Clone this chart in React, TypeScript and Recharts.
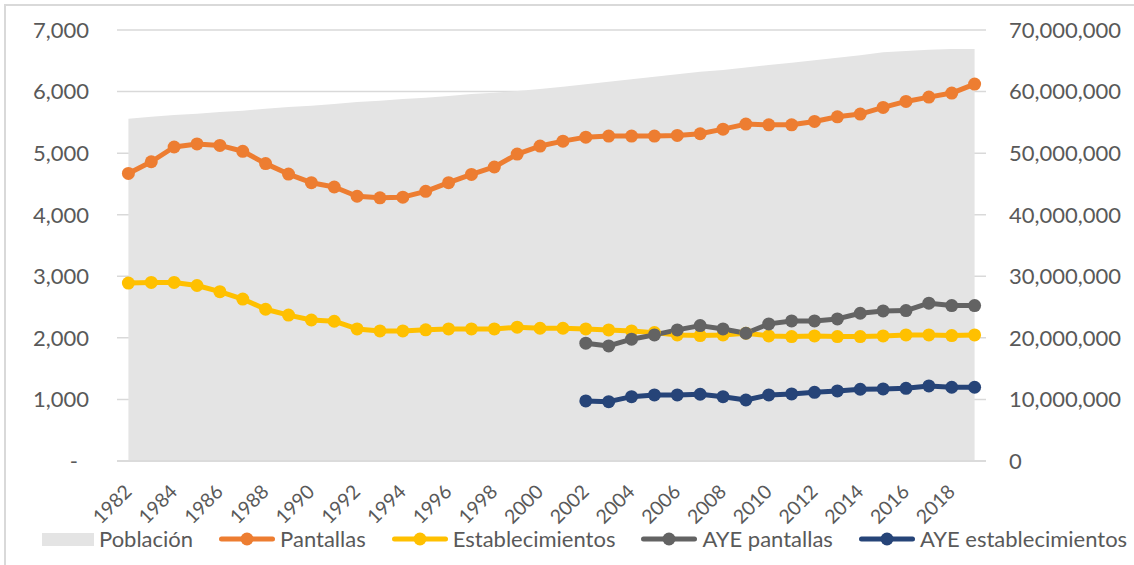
import React from 'react';
import { ComposedChart, Area, Line, XAxis, YAxis, CartesianGrid } from 'recharts';

// Categories
const years = [
  1982, 1983, 1984, 1985, 1986, 1987, 1988, 1989, 1990, 1991,
  1992, 1993, 1994, 1995, 1996, 1997, 1998, 1999, 2000, 2001,
  2002, 2003, 2004, 2005, 2006, 2007, 2008, 2009, 2010, 2011,
  2012, 2013, 2014, 2015, 2016, 2017, 2018, 2019,
];

// Población (right axis)
const poblacion = [
  55600000, 55900000, 56200000, 56400000, 56700000, 56900000, 57200000, 57500000, 57700000, 58000000,
  58300000, 58500000, 58800000, 59000000, 59300000, 59600000, 59800000, 60100000, 60400000, 60800000,
  61200000, 61600000, 62000000, 62400000, 62800000, 63200000, 63500000, 63900000, 64300000, 64700000,
  65100000, 65500000, 65900000, 66400000, 66600000, 66800000, 66900000, 66900000,
];

// Pantallas (left axis)
const pantallas = [
  4670, 4860, 5100, 5150, 5125, 5030, 4830, 4660, 4520, 4450,
  4300, 4275, 4285, 4380, 4520, 4655, 4775, 4985, 5115, 5195,
  5260, 5277, 5277, 5277, 5288, 5315, 5390, 5472, 5460, 5460,
  5515, 5590, 5635, 5742, 5840, 5910, 5976, 6122,
];

// Establecimientos (left axis)
const establecimientos = [
  2890, 2900, 2900, 2850, 2750, 2630, 2465, 2370, 2290, 2270,
  2145, 2113, 2113, 2130, 2145, 2145, 2145, 2173, 2156, 2156,
  2145, 2129, 2113, 2085, 2048, 2037, 2048, 2075, 2032, 2021,
  2032, 2021, 2021, 2032, 2048, 2048, 2037, 2048,
];

// AYE pantallas (left axis, from 2002)
const ayePantallas = [
  null, null, null, null, null, null, null, null, null, null,
  null, null, null, null, null, null, null, null, null, null,
  1913, 1869, 1978, 2048, 2129, 2199, 2145, 2075, 2227, 2275,
  2275, 2308, 2400, 2438, 2443, 2563, 2524, 2524,
];

// AYE establecimientos (left axis, from 2002)
const ayeEstablecimientos = [
  null, null, null, null, null, null, null, null, null, null,
  null, null, null, null, null, null, null, null, null, null,
  975, 964, 1045, 1073, 1073, 1084, 1045, 991, 1073, 1089,
  1116, 1138, 1165, 1170, 1181, 1219, 1198, 1198,
];

const leftTicks = [0, 1000, 2000, 3000, 4000, 5000, 6000, 7000];
const rightTicks = [0, 10000000, 20000000, 30000000, 40000000, 50000000, 60000000, 70000000];

const seriesNames = ['Población', 'Pantallas', 'Establecimientos', 'AYE pantallas', 'AYE establecimientos'];
const seriesColors = ['#e4e4e4', '#ed7d31', '#ffc000', '#636363', '#264478'];

const rows = years.map((year, i) => ({
  year,
  poblacion: poblacion[i],
  pantallas: pantallas[i],
  establecimientos: establecimientos[i],
  ayePantallas: ayePantallas[i],
  ayeEstablecimientos: ayeEstablecimientos[i],
}));

const FONT = 'Lato, "Open Sans", sans-serif';
const TEXT = '#595959';
const GRID = '#d9d9d9';

const fmt = (v: number) => v.toLocaleString('en-US');

const LeftTick = (props: any) => {
  const { x, y, payload } = props;
  const zero = payload.value === 0;
  return (
    <text x={x} y={y} dx={zero ? -11 : 0} dy="0.36em" textAnchor="end" fill={TEXT} fontSize={22} fontFamily={FONT}>
      {zero ? '-' : fmt(payload.value)}
    </text>
  );
};

const RightTick = (props: any) => {
  const { x, y, payload } = props;
  return (
    <text x={x} y={y} dy="0.36em" textAnchor="start" fill={TEXT} fontSize={22} fontFamily={FONT}>
      {fmt(payload.value)}
    </text>
  );
};

const YearTick = (props: any) => {
  const { x, y, payload } = props;
  const ax = x + 4.5;
  const ay = y + 32;
  return (
    <text x={ax} y={ay} textAnchor="end" transform={`rotate(-45 ${ax} ${ay})`} fill={TEXT} fontSize={19.5} fontFamily={FONT}>
      {payload.value}
    </text>
  );
};

const LegendIcon = ({ index }: { index: number }) => {
  const c = seriesColors[index];
  if (index === 0) {
    return <div style={{ width: 52, height: 13, background: c }} />;
  }
  return (
    <svg width={56} height={14} style={{ display: 'block' }}>
      <line x1={2.5} y1={7} x2={53.5} y2={7} stroke={c} strokeWidth={5} strokeLinecap="round" />
      <circle cx={28} cy={7} r={6.5} fill={c} />
    </svg>
  );
};

const ChartLegend = () => (
  <div
    style={{
      position: 'absolute',
      left: 42,
      top: 526,
      height: 26,
      display: 'flex',
      alignItems: 'center',
      fontFamily: FONT,
      fontSize: 22,
      color: TEXT,
      whiteSpace: 'nowrap',
    }}
  >
    {seriesNames.map((name, i) => (
      <div key={name} style={{ display: 'flex', alignItems: 'center', marginRight: 26 }}>
        <LegendIcon index={i} />
        <span style={{ marginLeft: 5, lineHeight: '26px' }}>{name}</span>
      </div>
    ))}
  </div>
);

const lineSeries = [
  { key: 'pantallas', color: seriesColors[1] },
  { key: 'establecimientos', color: seriesColors[2] },
  { key: 'ayePantallas', color: seriesColors[3] },
  { key: 'ayeEstablecimientos', color: seriesColors[4] },
];

export default function App() {
  return (
    <div style={{ position: 'absolute', left: 0, top: 0, width: 1134, height: 565, overflow: 'hidden', background: '#fff' }}>
      <div
        style={{
          position: 'absolute',
          left: 4,
          top: 4,
          width: 1150,
          height: 580,
          border: `2px solid ${GRID}`,
          boxSizing: 'border-box',
        }}
      />
      <div style={{ position: 'absolute', left: 0, top: 0 }}>
        <ComposedChart width={1134} height={565} data={rows} margin={{ top: 30, right: 0, bottom: 0, left: 0 }}>
          <CartesianGrid yAxisId="left" vertical={false} stroke={GRID} strokeWidth={1.5} />
          <XAxis
            dataKey="year"
            interval={1}
            height={104}
            padding={{ left: 11.4, right: 11.4 }}
            tickLine={false}
            tickSize={0}
            tickMargin={0}
            axisLine={{ stroke: GRID, strokeWidth: 1.5 }}
            tick={<YearTick />}
          />
          <YAxis
            yAxisId="left"
            domain={[0, 7000]}
            ticks={leftTicks}
            width={117}
            axisLine={false}
            tickLine={false}
            tickSize={0}
            tickMargin={28}
            tick={<LeftTick />}
          />
          <YAxis
            yAxisId="right"
            orientation="right"
            domain={[0, 70000000]}
            ticks={rightTicks}
            width={148}
            axisLine={false}
            tickLine={false}
            tickSize={0}
            tickMargin={23}
            tick={<RightTick />}
          />
          <Area
            yAxisId="right"
            type="linear"
            dataKey="poblacion"
            name={seriesNames[0]}
            fill={seriesColors[0]}
            fillOpacity={1}
            stroke="none"
            isAnimationActive={false}
          />
          {lineSeries.map((s, i) => (
            <Line
              key={s.key}
              yAxisId="left"
              type="linear"
              dataKey={s.key}
              name={seriesNames[i + 1]}
              stroke={s.color}
              strokeWidth={5}
              strokeLinejoin="round"
              dot={{ r: 6.5, fill: s.color, stroke: s.color, strokeWidth: 0 }}
              activeDot={false}
              connectNulls={false}
              isAnimationActive={false}
            />
          ))}
        </ComposedChart>
      </div>
      <ChartLegend />
    </div>
  );
}
